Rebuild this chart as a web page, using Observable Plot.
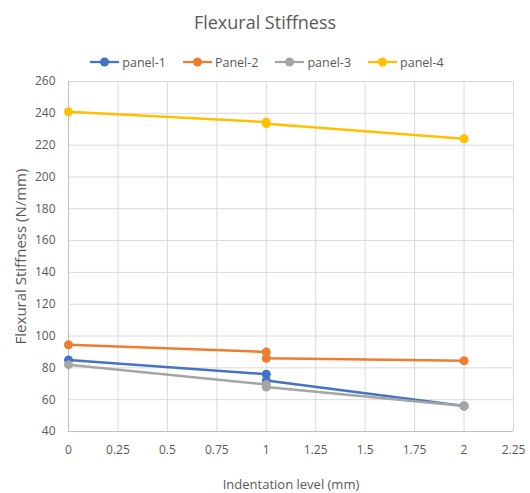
<!DOCTYPE html>
<html><head><meta charset="utf-8">
<script src="https://cdn.jsdelivr.net/npm/d3@7"></script>
<script src="https://cdn.jsdelivr.net/npm/@observablehq/plot@0.6"></script>
<style>
body{margin:0;background:#fff;font-family:"Open Sans",sans-serif;}
#wrap{width:530px;height:493px;position:relative;overflow:hidden;}
#title{height:42px;line-height:44px;text-align:center;font-size:18px;color:#595959;}
#legend{height:30px;display:flex;justify-content:center;align-items:center;gap:17px;font-size:12.5px;color:#595959;padding-top:10px;box-sizing:border-box;padding-left:4px;}
.item{display:flex;align-items:center;gap:3px;}
</style></head><body>
<div id="wrap">
<div id="title">Flexural Stiffness</div>
<div id="legend"></div>
<div id="chart"></div>
</div>
<script>
const seriesNames = ["panel-1", "Panel-2", "panel-3", "panel-4"];
const seriesColors = ["#4472C4", "#ED7D31", "#A5A5A5", "#FFC000"];
const xValues = [0, 1, 1, 2];
const panel1 = [85, 76, 72, 56];
const panel2 = [94.5, 90, 86, 84.5];
const panel3 = [82, 69.5, 68, 56];
const panel4 = [241, 234.5, 233.5, 224];
const xTicks = [0, 0.25, 0.5, 0.75, 1, 1.25, 1.5, 1.75, 2, 2.25];
const yTicks = [40, 60, 80, 100, 120, 140, 160, 180, 200, 220, 240, 260];
const xLabel = "Indentation level (mm)";
const yLabel = "Flexural Stiffness (N/mm)";

const allSeries = [panel1, panel2, panel3, panel4];
const data = [];
allSeries.forEach((vals, i) => vals.forEach((v, j) => data.push({series: seriesNames[i], x: xValues[j], y: v})));

// legend
const leg = document.getElementById("legend");
seriesNames.forEach((n, i) => {
  const d = document.createElement("div");
  d.className = "item";
  d.innerHTML = `<svg width="29" height="12"><line x1="0" y1="6" x2="29" y2="6" stroke="${seriesColors[i]}" stroke-width="2.25"/><circle cx="14.5" cy="6" r="4.5" fill="${seriesColors[i]}"/></svg><span>${n}</span>`;
  leg.appendChild(d);
});

const chart = Plot.plot({
  width: 530,
  height: 421,
  marginLeft: 68,
  marginRight: 17,
  marginTop: 9,
  marginBottom: 62,
  style: {fontFamily: "Open Sans, sans-serif", fontSize: "12px", color: "#595959", background: "#fff"},
  x: {domain: [0, 2.25]},
  y: {domain: [40, 260]},
  color: {domain: seriesNames, range: seriesColors},
  marks: [
    Plot.gridX(xTicks, {stroke: "#d9d9d9", strokeOpacity: 1, strokeWidth: 1}),
    Plot.gridY(yTicks, {stroke: "#d9d9d9", strokeOpacity: 1, strokeWidth: 1}),
    Plot.ruleX([0], {stroke: "#bfbfbf"}),
    Plot.ruleY([40], {stroke: "#bfbfbf"}),
    Plot.axisX(xTicks, {tickSize: 0, tickPadding: 14, tickFormat: d => String(d), label: null, fontSize: 12}),
    Plot.axisY(yTicks, {tickSize: 0, tickPadding: 13, label: null, fontSize: 12}),
    Plot.text([xLabel], {text: d => d, frameAnchor: "bottom", dy: 53, fontSize: 13, fill: "#595959", lineAnchor: "middle"}),
    Plot.text([yLabel], {text: d => d, frameAnchor: "left", dx: -47, rotate: -90, fontSize: 15, fill: "#595959", lineAnchor: "middle", textAnchor: "middle"}),
    Plot.line(data, {x: "x", y: "y", z: "series", stroke: "series", strokeWidth: 2.5}),
    Plot.dot(data, {x: "x", y: "y", fill: "series", r: 4.5})
  ]
});
document.getElementById("chart").appendChild(chart);
</script>
</body></html>
